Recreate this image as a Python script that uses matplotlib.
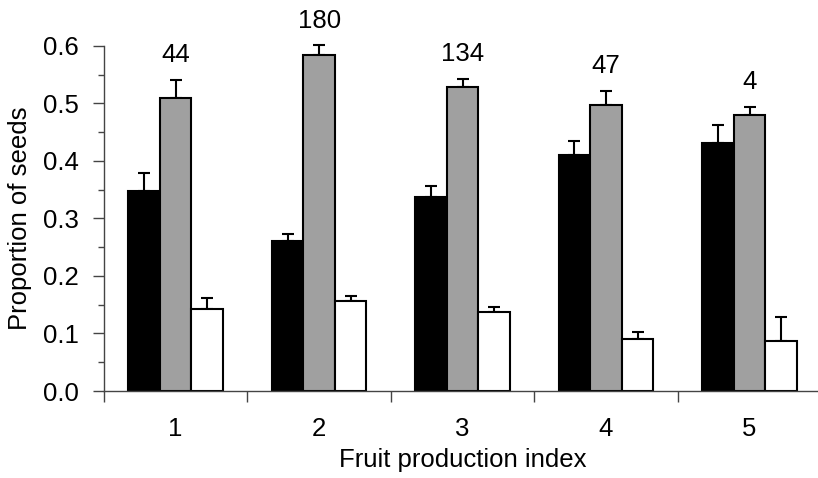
import matplotlib
matplotlib.use("Agg")
import matplotlib.pyplot as plt
import numpy as np
from matplotlib.ticker import MultipleLocator, FormatStrFormatter

plt.rcParams['font.family'] = ['Liberation Sans', 'DejaVu Sans']

groups = ["1", "2", "3", "4", "5"]
black_vals = [0.348, 0.261, 0.338, 0.411, 0.432]
black_err = [0.031, 0.012, 0.018, 0.024, 0.031]
gray_vals = [0.510, 0.585, 0.528, 0.497, 0.479]
gray_err = [0.031, 0.016, 0.015, 0.025, 0.015]
white_vals = [0.143, 0.157, 0.137, 0.090, 0.087]
white_err = [0.018, 0.009, 0.009, 0.013, 0.041]
counts = ["44", "180", "134", "47", "4"]

fig = plt.figure(figsize=(8.18, 4.78), dpi=100)
ax = fig.add_axes([0.127, 0.182, 0.877, 0.722])

x = np.arange(1, len(groups) + 1)
w = 0.22
series = [
    (black_vals, black_err, "black", -w),
    (gray_vals, gray_err, "#a0a0a0", 0.0),
    (white_vals, white_err, "white", w),
]
for vals, err, col, off in series:
    ax.bar(x + off, vals, width=w, color=col, edgecolor="black", linewidth=1.5, zorder=2)
    eb = ax.errorbar(x + off, vals, yerr=[np.zeros(len(vals)), err], fmt="none",
                     ecolor="black", elinewidth=1.5, capsize=4.5, capthick=1.5, zorder=1)
    for art in eb.lines[1] + eb.lines[2]:
        art.set_clip_on(False)

# sample sizes above gray bars
for xi, v, e, c in zip(x, gray_vals, gray_err, counts):
    ax.annotate(c, (xi, v + e), xytext=(0, 9), textcoords="offset points",
                ha="center", va="bottom", fontsize=18.5, annotation_clip=False)

ax.set_xlim(0.5, 5.5)
ax.set_ylim(0, 0.6)
ax.yaxis.set_major_locator(MultipleLocator(0.1))
ax.yaxis.set_minor_locator(MultipleLocator(0.05))
ax.yaxis.set_major_formatter(FormatStrFormatter("%.1f"))
ax.set_xticks(x)
ax.set_xticklabels(groups)
ax.set_xticks(np.arange(0.5, 5.6, 1.0), minor=True)
ax.tick_params(axis="x", which="major", length=0, pad=19, labelsize=18.5)
ax.tick_params(axis="x", which="minor", length=8, width=1, color="#444444")
ax.tick_params(axis="y", which="major", length=8, width=1, color="#444444", labelsize=18.5, pad=10)
ax.tick_params(axis="y", which="minor", length=4, width=1, color="#444444")

for s in ["top", "right"]:
    ax.spines[s].set_visible(False)
for s in ["left", "bottom"]:
    ax.spines[s].set_color("#444444")
    ax.spines[s].set_linewidth(1)

ax.set_xlabel("Fruit production index", fontsize=18.5, labelpad=5)
ax.set_ylabel("Proportion of seeds", fontsize=18.5, labelpad=8)

fig.savefig("out.png", dpi=100)
